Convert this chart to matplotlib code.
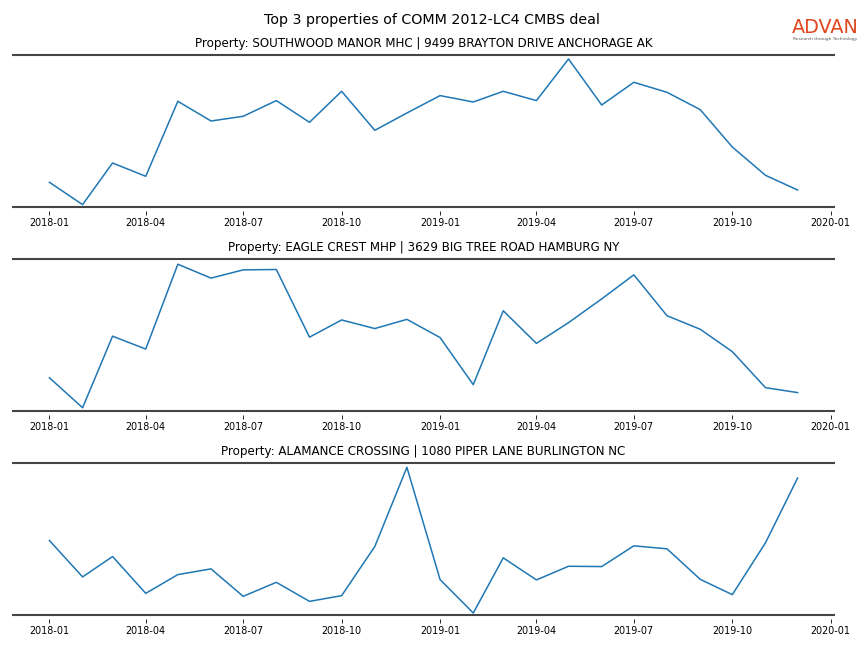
import matplotlib
matplotlib.use("Agg")
import matplotlib.pyplot as plt
import matplotlib.dates as mdates
import pandas as pd

months = pd.date_range("2018-01-01", "2019-12-01", freq="MS")

suptitle = "Top 3 properties of COMM 2012-LC4 CMBS deal"
titles = [
    "Property: SOUTHWOOD MANOR MHC | 9499 BRAYTON DRIVE ANCHORAGE AK",
    "Property: EAGLE CREST MHP | 3629 BIG TREE ROAD HAMBURG NY",
    "Property: ALAMANCE CROSSING | 1080 PIPER LANE BURLINGTON NC",
]

southwood = [24.7, 2.4, 44.0, 30.7, 105.7, 86.0, 90.7, 106.4, 84.7, 115.7, 76.7, 94.0,
             111.4, 105.0, 115.7, 106.4, 148.0, 102.0, 124.7, 114.7, 97.4, 60.0, 31.7, 17.0]
eagle_crest = [33.6, 3.3, 75.6, 62.6, 148.3, 134.3, 142.6, 143.0, 74.6, 92.0, 83.3, 92.6,
               74.2, 26.6, 101.3, 68.3, 89.3, 113.3, 137.6, 96.3, 82.6, 60.0, 23.6, 18.6]
alamance = [74.3, 38.0, 58.3, 21.6, 40.3, 46.0, 18.6, 32.6, 13.6, 19.3, 68.3, 147.3,
            35.3, 2.0, 57.0, 35.0, 48.6, 48.3, 69.0, 66.0, 35.6, 20.3, 72.0, 136.6]
series = [southwood, eagle_crest, alamance]
ylims = [(0, 152.0), (0, 153.6), (0, 151.6)]

fig = plt.figure(figsize=(8.64, 6.48), dpi=100)
fig.suptitle(suptitle, fontsize=10.3, y=0.98)

# logo text
fig.text(0.955, 0.957, "ADVAN", color="#E0461E", fontsize=13.8,
         ha="center", va="center", family="DejaVu Sans")
fig.text(0.955, 0.940, "Research through Technology", color="#555555", fontsize=3.2,
         ha="center", va="center")

left, width, height = 12 / 864, (835 - 12) / 864, 152 / 648
bottoms = [1 - 207 / 648, 1 - 411 / 648, 1 - 615 / 648]

spine_color = "#444444"
for vals, title, b, yl in zip(series, titles, bottoms, ylims):
    ax = fig.add_axes([left, b, width, height])
    ax.plot(months, vals, color="#1f77b4", linewidth=1.1)
    ax.set_ylim(*yl)
    ax.set_title(title, fontsize=8.6)
    ax.set_yticks([])
    for s in ["left", "right", "top"]:
        ax.spines[s].set_visible(False)
    ax.spines["bottom"].set_position(("outward", 3))
    ax.spines["bottom"].set_visible(False)
    for yy in (0, 1):
        ax.plot([0, 1], [yy, yy], transform=ax.transAxes, color=spine_color,
                linewidth=1.5, clip_on=False, solid_capstyle="butt")
    ax.xaxis.set_major_locator(mdates.MonthLocator(bymonth=[1, 4, 7, 10]))
    ax.xaxis.set_major_formatter(mdates.DateFormatter("%Y-%m"))
    ax.tick_params(axis="x", labelsize=6.9, length=3, width=0.6, pad=2)

fig.savefig("out.png", dpi=100)
